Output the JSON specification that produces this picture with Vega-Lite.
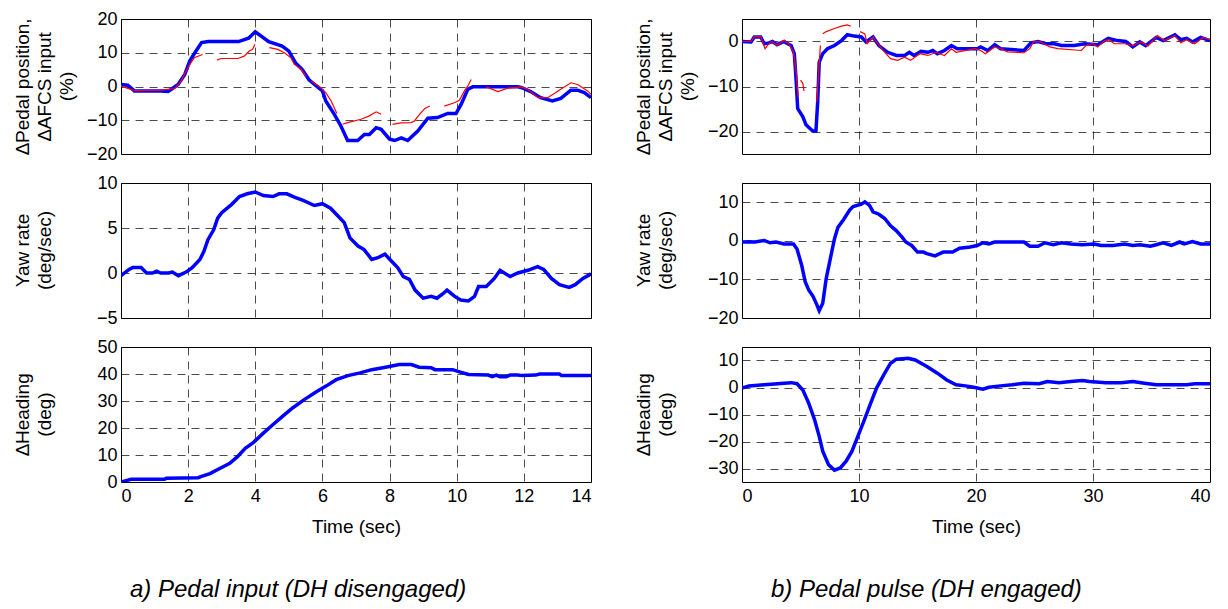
{
"$schema": "https://vega.github.io/schema/vega-lite/v6.json",
"background": "white",
"padding": {"left": 12, "top": 9, "right": 5, "bottom": 2},
"config": {
  "view": {"stroke": "#000", "strokeWidth": 1},
  "font": "Liberation Sans",
  "axis": {"labelFont": "Liberation Sans", "labelFontSize": 18, "labelColor": "#000", "titleFont": "Liberation Sans", "titleFontSize": 19, "titleFontWeight": "normal", "titleColor": "#000", "grid": true, "gridColor": "#000", "gridDash": [8, 6], "gridOpacity": 0.7, "gridWidth": 1, "domain": false, "ticks": false, "labelPadding": 4},
  "axisX": {"labelPadding": 5, "titlePadding": 12},
  "axisY": {"titleX": -108, "titleY": 67, "titleAngle": -90, "titleBaseline": "top", "titleAlign": "center", "titleLineHeight": 22}
},
"datasets": {
  "LTb": [{"t":0,"v":0.6},{"t":0.2,"v":0.4},{"t":0.4,"v":-1.3},{"t":1.2,"v":-1.3},{"t":1.4,"v":-1.5},{"t":1.5,"v":-0.8},{"t":1.7,"v":0.6},{"t":1.9,"v":3.6},{"t":2.05,"v":7.6},{"t":2.2,"v":10},{"t":2.4,"v":13},{"t":2.6,"v":13.3},{"t":3.5,"v":13.3},{"t":3.8,"v":14.3},{"t":4.0,"v":16.2},{"t":4.4,"v":13.3},{"t":4.8,"v":12},{"t":5.0,"v":10.5},{"t":5.2,"v":7},{"t":5.4,"v":5},{"t":5.6,"v":2},{"t":5.8,"v":0.3},{"t":6.0,"v":-1.3},{"t":6.1,"v":-4.3},{"t":6.35,"v":-8.2},{"t":6.55,"v":-11.7},{"t":6.75,"v":-16},{"t":7.05,"v":-16},{"t":7.25,"v":-14.2},{"t":7.4,"v":-14.2},{"t":7.6,"v":-12.2},{"t":7.75,"v":-12.7},{"t":8.0,"v":-15.6},{"t":8.15,"v":-16},{"t":8.35,"v":-15.2},{"t":8.54,"v":-16},{"t":8.84,"v":-13.2},{"t":9.14,"v":-9.4},{"t":9.43,"v":-9.2},{"t":9.73,"v":-8},{"t":9.98,"v":-8},{"t":10.13,"v":-5.3},{"t":10.33,"v":-0.8},{"t":10.48,"v":-0.1},{"t":11.82,"v":-0.1},{"t":11.92,"v":-0.3},{"t":12.2,"v":-1.5},{"t":12.5,"v":-3.3},{"t":12.85,"v":-4.3},{"t":13.1,"v":-3.5},{"t":13.4,"v":-1.1},{"t":13.6,"v":-1.1},{"t":13.8,"v":-1.8},{"t":14.0,"v":-3.3}],
  "LTr": [{"g":1,"t":0,"v":0.1},{"g":1,"t":0.4,"v":-1.2},{"g":1,"t":1.2,"v":-1.1},{"g":1,"t":1.6,"v":-0.6},{"g":1,"t":1.79,"v":1.6},{"g":1,"t":1.99,"v":5.6},{"g":1,"t":2.18,"v":8.5},{"g":1,"t":2.43,"v":9.5},
    {"g":2,"t":2.86,"v":7.8},{"g":2,"t":2.98,"v":8.3},{"g":2,"t":3.48,"v":8.3},{"g":2,"t":3.67,"v":9.0},{"g":2,"t":3.82,"v":10.5},{"g":2,"t":3.92,"v":11},{"g":2,"t":3.99,"v":12.5},
    {"g":3,"t":4.42,"v":11.5},{"g":3,"t":4.67,"v":11},{"g":3,"t":4.87,"v":10},{"g":3,"t":5.06,"v":8.5},{"g":3,"t":5.16,"v":6.6},{"g":3,"t":5.36,"v":5.1},{"g":3,"t":5.51,"v":3.1},
    {"g":4,"t":5.66,"v":1.6},{"g":4,"t":5.9,"v":0.1},{"g":4,"t":6.1,"v":-1.8},{"g":4,"t":6.26,"v":-4.3},{"g":4,"t":6.43,"v":-8},
    {"g":5,"t":6.6,"v":-11.2},{"g":5,"t":6.75,"v":-10.7},{"g":5,"t":7.15,"v":-9.7},{"g":5,"t":7.4,"v":-8.7},{"g":5,"t":7.6,"v":-7.5},{"g":5,"t":7.75,"v":-8.2},
    {"g":6,"t":8.09,"v":-11.2},{"g":6,"t":8.34,"v":-10.8},{"g":6,"t":8.64,"v":-10.7},{"g":6,"t":8.74,"v":-10.2},{"g":6,"t":8.9,"v":-8.2},{"g":6,"t":9.05,"v":-6.5},{"g":6,"t":9.2,"v":-5.8},
    {"g":7,"t":9.63,"v":-5.8},{"g":7,"t":9.93,"v":-4.8},{"g":7,"t":10.08,"v":-4.1},{"g":7,"t":10.23,"v":-1.3},{"g":7,"t":10.33,"v":0.1},{"g":7,"t":10.43,"v":2.1},
    {"g":8,"t":10.88,"v":-0.1},{"g":8,"t":11.23,"v":-1.5},{"g":8,"t":11.52,"v":-0.5},{"g":8,"t":11.92,"v":-0.1},{"g":8,"t":12.11,"v":-0.8},{"g":8,"t":12.42,"v":-3.3},{"g":8,"t":12.71,"v":-3.3},{"g":8,"t":13.1,"v":-0.8},{"g":8,"t":13.4,"v":1.1},{"g":8,"t":13.6,"v":0.6},{"g":8,"t":13.9,"v":-1.3},{"g":8,"t":14,"v":-2.3}],
  "LM": [{"t":0,"v":-0.3},{"t":0.24,"v":0.4},{"t":0.35,"v":0.6},{"t":0.6,"v":0.6},{"t":0.76,"v":0},{"t":0.94,"v":0},{"t":1.06,"v":0.2},{"t":1.18,"v":0},{"t":1.41,"v":0},{"t":1.53,"v":0.1},{"t":1.71,"v":-0.3},{"t":1.94,"v":0.1},{"t":2.12,"v":0.6},{"t":2.35,"v":1.5},{"t":2.47,"v":2.4},{"t":2.59,"v":3.7},{"t":2.76,"v":4.8},{"t":2.88,"v":6.1},{"t":3.0,"v":6.7},{"t":3.29,"v":7.6},{"t":3.53,"v":8.5},{"t":3.76,"v":8.8},{"t":4.0,"v":9.0},{"t":4.24,"v":8.6},{"t":4.53,"v":8.5},{"t":4.71,"v":8.8},{"t":4.94,"v":8.8},{"t":5.18,"v":8.4},{"t":5.41,"v":8.1},{"t":5.76,"v":7.5},{"t":6.0,"v":7.7},{"t":6.24,"v":7.2},{"t":6.47,"v":6.3},{"t":6.65,"v":5.6},{"t":6.82,"v":3.9},{"t":7.06,"v":3.0},{"t":7.24,"v":2.6},{"t":7.47,"v":1.5},{"t":7.65,"v":1.7},{"t":7.86,"v":2.1},{"t":8.06,"v":1.3},{"t":8.24,"v":0.6},{"t":8.41,"v":-0.4},{"t":8.59,"v":-0.7},{"t":8.76,"v":-1.9},{"t":9.0,"v":-2.8},{"t":9.24,"v":-2.6},{"t":9.41,"v":-2.8},{"t":9.59,"v":-2.3},{"t":9.71,"v":-1.9},{"t":9.94,"v":-2.6},{"t":10.12,"v":-3.0},{"t":10.35,"v":-3.1},{"t":10.53,"v":-2.6},{"t":10.65,"v":-1.5},{"t":10.88,"v":-1.5},{"t":11.12,"v":-0.6},{"t":11.29,"v":0.3},{"t":11.59,"v":-0.4},{"t":11.82,"v":0},{"t":12.12,"v":0.3},{"t":12.41,"v":0.7},{"t":12.59,"v":0.4},{"t":12.82,"v":-0.6},{"t":13.06,"v":-1.3},{"t":13.35,"v":-1.6},{"t":13.53,"v":-1.3},{"t":13.76,"v":-0.6},{"t":14.0,"v":-0.1}],
  "LB": [{"t":0,"v":0},{"t":0.18,"v":0.6},{"t":0.3,"v":1},{"t":1.3,"v":1},{"t":1.35,"v":1.4},{"t":2.3,"v":1.6},{"t":2.4,"v":2.1},{"t":2.65,"v":3.1},{"t":2.94,"v":5},{"t":3.24,"v":6.9},{"t":3.47,"v":9.4},{"t":3.7,"v":12.5},{"t":3.94,"v":14.6},{"t":4.24,"v":18.1},{"t":4.53,"v":21.3},{"t":4.82,"v":24.4},{"t":5.12,"v":27.5},{"t":5.47,"v":30.6},{"t":5.82,"v":33.4},{"t":6.12,"v":35.6},{"t":6.41,"v":37.9},{"t":6.76,"v":39.4},{"t":7.12,"v":40.4},{"t":7.47,"v":41.6},{"t":7.88,"v":42.5},{"t":8.29,"v":43.5},{"t":8.65,"v":43.5},{"t":8.88,"v":42.5},{"t":9.24,"v":42.3},{"t":9.35,"v":41.6},{"t":9.88,"v":41.6},{"t":10.06,"v":40.9},{"t":10.35,"v":39.8},{"t":10.94,"v":39.6},{"t":11.06,"v":39},{"t":11.18,"v":39.6},{"t":11.29,"v":39},{"t":11.47,"v":39},{"t":11.59,"v":39.6},{"t":11.82,"v":39.6},{"t":11.94,"v":39.4},{"t":12.35,"v":39.6},{"t":12.47,"v":40},{"t":13.06,"v":40},{"t":13.12,"v":39.4},{"t":14,"v":39.4}],
  "RTb": [{"t":0,"v":0},{"t":0.77,"v":-0.1},{"t":1.05,"v":1.0},{"t":1.6,"v":1.0},{"t":1.9,"v":-0.5},{"t":2.3,"v":-0.3},{"t":2.6,"v":0},{"t":3.0,"v":-0.7},{"t":3.6,"v":0},{"t":3.9,"v":-0.5},{"t":4.2,"v":-0.9},{"t":4.47,"v":-2.7},{"t":4.6,"v":-7.5},{"t":4.76,"v":-14.9},{"t":5.19,"v":-16.7},{"t":5.47,"v":-18.5},{"t":6.04,"v":-19.9},{"t":6.32,"v":-19.9},{"t":6.47,"v":-13.4},{"t":6.6,"v":-4.6},{"t":6.9,"v":-2.7},{"t":7.3,"v":-1.6},{"t":7.9,"v":-0.9},{"t":8.5,"v":0.2},{"t":9.0,"v":1.5},{"t":9.6,"v":1.2},{"t":10.2,"v":1.0},{"t":10.6,"v":-0.1},{"t":11.2,"v":1.0},{"t":11.7,"v":-0.9},{"t":12.45,"v":-2.4},{"t":13.2,"v":-3.1},{"t":13.9,"v":-3.1},{"t":14.3,"v":-2.4},{"t":14.7,"v":-3.1},{"t":15.3,"v":-2.2},{"t":15.9,"v":-2.4},{"t":16.3,"v":-2.0},{"t":16.7,"v":-2.7},{"t":17.3,"v":-2.0},{"t":17.9,"v":-0.9},{"t":18.4,"v":-1.6},{"t":19.3,"v":-1.6},{"t":20.1,"v":-1.6},{"t":20.4,"v":-1.2},{"t":21.0,"v":-2.0},{"t":21.6,"v":-0.7},{"t":22.1,"v":-1.6},{"t":24.1,"v":-2.0},{"t":24.7,"v":-0.3},{"t":25.3,"v":0},{"t":26.0,"v":-0.5},{"t":26.7,"v":-0.5},{"t":27.3,"v":-0.9},{"t":28.4,"v":-0.9},{"t":29.3,"v":-0.5},{"t":30.4,"v":-0.7},{"t":31.3,"v":0.7},{"t":32.1,"v":0.2},{"t":32.8,"v":0},{"t":33.4,"v":-1.2},{"t":34.0,"v":-0.1},{"t":34.5,"v":-0.9},{"t":35.4,"v":0.9},{"t":36.0,"v":0.2},{"t":37.0,"v":1.5},{"t":37.5,"v":0.4},{"t":38.0,"v":0.7},{"t":38.5,"v":-0.1},{"t":39.2,"v":0.9},{"t":40,"v":0.2}],
  "RTr": [{"g":1,"t":0,"v":0},{"g":1,"t":0.77,"v":0},{"g":1,"t":1.05,"v":1.1},{"g":1,"t":1.6,"v":1.1},{"g":1,"t":1.97,"v":-1.6},{"g":1,"t":2.3,"v":-0.5},{"g":1,"t":2.6,"v":0},{"g":1,"t":3.0,"v":-0.9},{"g":1,"t":3.6,"v":0.2},{"g":1,"t":4.0,"v":-0.5},{"g":1,"t":4.4,"v":-2.4},{"g":1,"t":4.6,"v":-6},{"g":1,"t":4.8,"v":-12.3},
    {"g":2,"t":5.0,"v":-8.6},{"g":2,"t":5.2,"v":-9.3},{"g":2,"t":5.3,"v":-11},
    {"g":3,"t":6.4,"v":-13.4},{"g":3,"t":6.55,"v":-6.8},{"g":3,"t":6.7,"v":-0.9},
    {"g":4,"t":6.9,"v":1.7},{"g":4,"t":7.2,"v":2.2},{"g":4,"t":7.9,"v":2.9},{"g":4,"t":8.5,"v":3.4},{"g":4,"t":9.0,"v":3.7},{"g":4,"t":9.3,"v":3.4},
    {"g":5,"t":10.1,"v":2.2},{"g":5,"t":10.5,"v":1.7},{"g":5,"t":10.7,"v":-0.5},{"g":5,"t":11.2,"v":1.0},{"g":5,"t":11.6,"v":-0.5},{"g":5,"t":12.2,"v":-2.4},{"g":5,"t":12.7,"v":-3.8},{"g":5,"t":13.3,"v":-4.2},{"g":5,"t":13.9,"v":-3.5},{"g":5,"t":14.4,"v":-4.2},{"g":5,"t":15.2,"v":-2.7},{"g":5,"t":15.9,"v":-3.1},{"g":5,"t":16.6,"v":-2.4},{"g":5,"t":17.3,"v":-3.1},{"g":5,"t":17.9,"v":-1.6},{"g":5,"t":18.3,"v":-2.4},{"g":5,"t":19.9,"v":-1.6},{"g":5,"t":20.4,"v":-2.0},{"g":5,"t":20.8,"v":-2.7},{"g":5,"t":21.6,"v":-1.2},{"g":5,"t":22.1,"v":-1.6},{"g":5,"t":22.7,"v":-2.3},{"g":5,"t":24.1,"v":-2.5},{"g":5,"t":24.6,"v":-1.6},{"g":5,"t":24.9,"v":-0.1},{"g":5,"t":25.5,"v":0},{"g":5,"t":26.3,"v":-1.2},{"g":5,"t":27.0,"v":-1.6},{"g":5,"t":29.0,"v":-2.0},{"g":5,"t":29.4,"v":-0.9},{"g":5,"t":30.0,"v":-0.5},{"g":5,"t":30.4,"v":-1.2},{"g":5,"t":31.0,"v":0.2},{"g":5,"t":31.4,"v":0.4},{"g":5,"t":31.8,"v":-0.5},{"g":5,"t":32.7,"v":-0.5},{"g":5,"t":33.4,"v":-0.9},{"g":5,"t":34.1,"v":-0.1},{"g":5,"t":34.7,"v":-1.0},{"g":5,"t":35.5,"v":1.3},{"g":5,"t":36.1,"v":0.2},{"g":5,"t":37.0,"v":1.3},{"g":5,"t":37.5,"v":-0.3},{"g":5,"t":38.0,"v":0.4},{"g":5,"t":38.7,"v":-0.5},{"g":5,"t":39.4,"v":0.9},{"g":5,"t":40,"v":0.4}],
  "RM": [{"t":0,"v":-0.3},{"t":0.6,"v":-0.2},{"t":1.1,"v":-0.3},{"t":1.9,"v":0.1},{"t":2.4,"v":-0.5},{"t":2.9,"v":-0.3},{"t":3.6,"v":-0.8},{"t":4.4,"v":-0.8},{"t":4.7,"v":-2.1},{"t":5.1,"v":-6.3},{"t":5.4,"v":-10.6},{"t":5.7,"v":-12.7},{"t":6.07,"v":-14.4},{"t":6.4,"v":-16.6},{"t":6.6,"v":-18.1},{"t":6.9,"v":-16.2},{"t":7.2,"v":-9.7},{"t":7.55,"v":-4.6},{"t":7.9,"v":0.5},{"t":8.2,"v":3.5},{"t":8.7,"v":5.6},{"t":9.2,"v":8.0},{"t":9.5,"v":8.9},{"t":10.2,"v":9.5},{"t":10.5,"v":10.1},{"t":10.9,"v":9.2},{"t":11.2,"v":7.5},{"t":11.7,"v":6.9},{"t":12.2,"v":5.8},{"t":12.7,"v":3.9},{"t":13.2,"v":2.6},{"t":13.7,"v":0.9},{"t":14.0,"v":-0.3},{"t":14.5,"v":-1.2},{"t":15.0,"v":-2.9},{"t":15.5,"v":-2.9},{"t":15.8,"v":-3.3},{"t":16.5,"v":-3.9},{"t":17.2,"v":-2.9},{"t":18.0,"v":-2.9},{"t":18.6,"v":-1.9},{"t":19.5,"v":-1.6},{"t":20.1,"v":-1.2},{"t":20.6,"v":-0.5},{"t":21.1,"v":-0.8},{"t":21.6,"v":-0.3},{"t":24.1,"v":-0.3},{"t":24.6,"v":-1.4},{"t":25.3,"v":-1.4},{"t":25.9,"v":-0.5},{"t":26.6,"v":-1.0},{"t":27.3,"v":-0.5},{"t":28.1,"v":-0.8},{"t":29.1,"v":-1.0},{"t":30.1,"v":-0.8},{"t":30.7,"v":-1.2},{"t":31.7,"v":-1.2},{"t":32.7,"v":-0.8},{"t":33.4,"v":-1.2},{"t":34.0,"v":-1.0},{"t":34.9,"v":-1.4},{"t":35.4,"v":-1.0},{"t":36.0,"v":-0.5},{"t":36.7,"v":-1.2},{"t":37.4,"v":-0.3},{"t":37.8,"v":-0.8},{"t":38.5,"v":-0.2},{"t":39.2,"v":-0.8},{"t":40,"v":-0.8}],
  "RB": [{"t":0,"v":-0.2},{"t":0.6,"v":0.6},{"t":1.9,"v":1.0},{"t":3.6,"v":1.6},{"t":4.2,"v":1.8},{"t":4.7,"v":1.4},{"t":5.2,"v":-0.9},{"t":5.7,"v":-5.8},{"t":6.2,"v":-11.9},{"t":6.6,"v":-18.1},{"t":6.9,"v":-23.6},{"t":7.4,"v":-28.6},{"t":7.9,"v":-30.6},{"t":8.4,"v":-29.8},{"t":8.9,"v":-27.3},{"t":9.4,"v":-23.6},{"t":9.9,"v":-18.1},{"t":10.4,"v":-12.6},{"t":11.0,"v":-5.8},{"t":11.5,"v":-0.2},{"t":12.2,"v":5.3},{"t":12.7,"v":9.0},{"t":13.2,"v":10.5},{"t":14.2,"v":10.8},{"t":14.8,"v":10.2},{"t":15.8,"v":7.8},{"t":16.7,"v":5.3},{"t":17.5,"v":2.8},{"t":18.3,"v":1.0},{"t":19.1,"v":0.6},{"t":19.8,"v":0.1},{"t":20.6,"v":-0.6},{"t":21.1,"v":0.1},{"t":22.1,"v":0.6},{"t":23.1,"v":1.0},{"t":24.1,"v":1.6},{"t":25.4,"v":1.4},{"t":26.1,"v":2.2},{"t":27.1,"v":1.8},{"t":28.1,"v":2.2},{"t":29.1,"v":2.6},{"t":29.7,"v":2.2},{"t":31.1,"v":1.8},{"t":32.4,"v":1.8},{"t":33.4,"v":2.2},{"t":34.4,"v":1.6},{"t":35.4,"v":1.0},{"t":36.7,"v":1.0},{"t":38.0,"v":1.0},{"t":38.7,"v":1.4},{"t":40,"v":1.4}]
},
"columns": 2,
"spacing": {"row": 29, "column": 151},
"bounds": "flush",
"concat": [
  {
    "width": 470, "height": 135,
    "encoding": {
      "x": {"field": "t", "type": "quantitative", "scale": {"domain": [0, 14], "nice": false}, "axis": {"values": [0,2,4,6,8,10,12,14], "labels": false, "title": null}},
      "y": {"field": "v", "type": "quantitative", "scale": {"domain": [-20, 20], "nice": false}, "axis": {"values": [-20,-10,0,10,20], "title": ["∆Pedal position,", "∆AFCS input", "(%)"]}}
    },
    "layer": [
      {"data": {"name": "LTb"}, "mark": {"type": "line", "color": "#0000ff", "strokeWidth": 3.5, "clip": true}},
      {"data": {"name": "LTr"}, "mark": {"type": "line", "color": "#ff0000", "strokeWidth": 1.2, "clip": true}, "encoding": {"detail": {"field": "g"}}}
    ]
  },
  {
    "width": 468, "height": 135,
    "encoding": {
      "x": {"field": "t", "type": "quantitative", "scale": {"domain": [0, 40], "nice": false}, "axis": {"values": [0,10,20,30,40], "labels": false, "title": null}},
      "y": {"field": "v", "type": "quantitative", "scale": {"domain": [-25, 5], "nice": false}, "axis": {"values": [-20,-10,0], "title": ["∆Pedal position,", "∆AFCS input", "(%)"]}}
    },
    "layer": [
      {"data": {"name": "RTb"}, "mark": {"type": "line", "color": "#0000ff", "strokeWidth": 3.5, "clip": true}},
      {"data": {"name": "RTr"}, "mark": {"type": "line", "color": "#ff0000", "strokeWidth": 1.2, "clip": true}, "encoding": {"detail": {"field": "g"}}}
    ]
  },
  {
    "width": 470, "height": 135,
    "data": {"name": "LM"},
    "mark": {"type": "line", "color": "#0000ff", "strokeWidth": 3.5, "clip": true},
    "encoding": {
      "x": {"field": "t", "type": "quantitative", "scale": {"domain": [0, 14], "nice": false}, "axis": {"values": [0,2,4,6,8,10,12,14], "labels": false, "title": null}},
      "y": {"field": "v", "type": "quantitative", "scale": {"domain": [-5, 10], "nice": false}, "axis": {"values": [-5,0,5,10], "title": ["Yaw rate", "(deg/sec)"]}}
    }
  },
  {
    "width": 468, "height": 135,
    "data": {"name": "RM"},
    "mark": {"type": "line", "color": "#0000ff", "strokeWidth": 3.5, "clip": true},
    "encoding": {
      "x": {"field": "t", "type": "quantitative", "scale": {"domain": [0, 40], "nice": false}, "axis": {"values": [0,10,20,30,40], "labels": false, "title": null}},
      "y": {"field": "v", "type": "quantitative", "scale": {"domain": [-20, 15], "nice": false}, "axis": {"values": [-20,-10,0,10], "title": ["Yaw rate", "(deg/sec)"]}}
    }
  },
  {
    "width": 470, "height": 135,
    "title": {"text": "a) Pedal input (DH disengaged)", "orient": "bottom", "anchor": "start", "frame": "bounds", "offset": 42, "dx": 117, "fontSize": 24, "fontStyle": "italic", "fontWeight": "normal", "font": "Liberation Sans", "color": "#000"},
    "data": {"name": "LB"},
    "mark": {"type": "line", "color": "#0000ff", "strokeWidth": 3.5, "clip": true},
    "encoding": {
      "x": {"field": "t", "type": "quantitative", "scale": {"domain": [0, 14], "nice": false}, "axis": {"values": [0,2,4,6,8,10,12,14], "title": "Time (sec)"}},
      "y": {"field": "v", "type": "quantitative", "scale": {"domain": [0, 50], "nice": false}, "axis": {"values": [0,10,20,30,40,50], "title": ["∆Heading", "(deg)"]}}
    }
  },
  {
    "width": 468, "height": 135,
    "title": {"text": "b) Pedal pulse (DH engaged)", "orient": "bottom", "anchor": "start", "frame": "bounds", "offset": 42, "dx": 137, "fontSize": 24, "fontStyle": "italic", "fontWeight": "normal", "font": "Liberation Sans", "color": "#000"},
    "data": {"name": "RB"},
    "mark": {"type": "line", "color": "#0000ff", "strokeWidth": 3.5, "clip": true},
    "encoding": {
      "x": {"field": "t", "type": "quantitative", "scale": {"domain": [0, 40], "nice": false}, "axis": {"values": [0,10,20,30,40], "title": "Time (sec)"}},
      "y": {"field": "v", "type": "quantitative", "scale": {"domain": [-35, 15], "nice": false}, "axis": {"values": [-30,-20,-10,0,10], "title": ["∆Heading", "(deg)"]}}
    }
  }
]
}
